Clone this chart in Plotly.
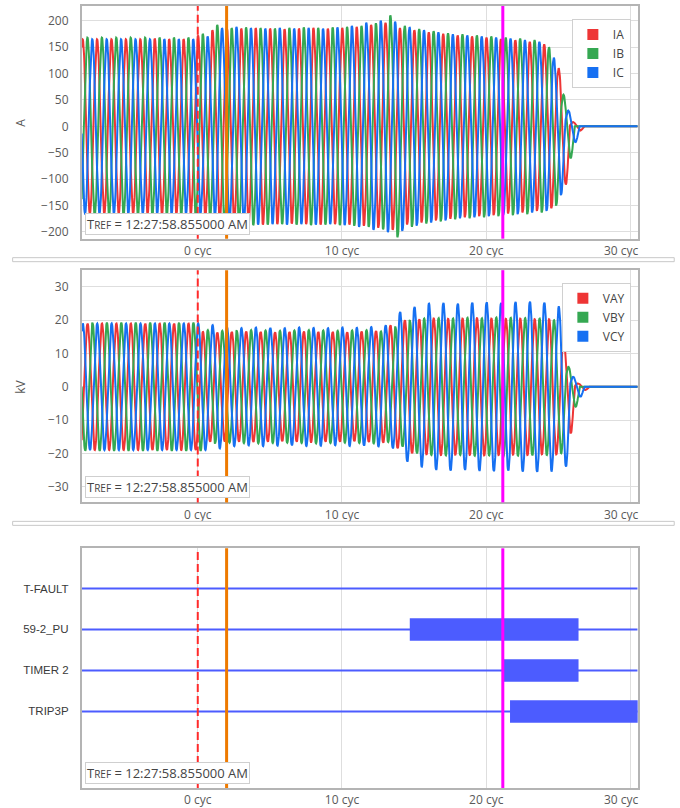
import numpy as np
import plotly.graph_objects as go

# ---------------------------------------------------------------------------
# Event record data
# Peak value of every cycle of each phase, starting at cycle index CYCLE_FIRST.
# ---------------------------------------------------------------------------
CYCLE_FIRST = -9

# Phase currents (A)
IA_PK = [165, 165, 165, 165, 165, 165, 166, 165, 165,
         172, 182, 185, 185, 186, 185, 184, 185, 186, 185,
         186, 188, 192, 196, 186, 182, 178, 175, 172, 170,
         168, 165, 163, 160, 155, 110, 8, 0]
IB_PK = [168, 168, 168, 168, 168, 168, 168, 168, 168,
         175, 192, 186, 187, 186, 185, 186, 187, 186, 187,
         188, 190, 195, 210, 190, 184, 180, 176, 174, 172,
         170, 168, 166, 163, 150, 60, 0, 0]
IC_PK = [165, 165, 165, 165, 165, 165, 165, 165, 165,
         170, 186, 188, 186, 185, 186, 185, 186, 185, 187,
         190, 196, 200, 198, 188, 182, 178, 174, 172, 170,
         168, 166, 163, 160, 130, 30, 0, 0]

# Phase voltages (kV)
VAY_PK = [19.0, 19.0, 19.0, 19.0, 19.0, 19.0, 19.0, 19.0, 19.0, 19.0,
          16.5, 16.3, 16.5, 16.6, 16.5, 16.4, 16.5, 16.6, 16.5,
          16.5, 16.4, 16.6, 16.8, 18.5, 20.0, 20.3, 20.5, 20.4, 20.5,
          20.6, 20.5, 20.4, 20.5, 20.3, 20.3, 14.0, 1.0]
VBY_PK = [19.2, 19.2, 19.2, 19.2, 19.2, 19.2, 19.2, 19.2, 19.2, 19.2,
          17.0, 16.8, 16.9, 17.0, 16.9, 16.8, 16.9, 17.0, 16.9,
          16.8, 16.9, 17.0, 16.6, 18.0, 20.0, 20.5, 20.6, 20.5, 20.7,
          20.6, 20.8, 20.7, 20.6, 20.5, 20.0, 6.0, 0]
VCY_PK = [19.0, 19.0, 19.0, 19.0, 19.0, 19.0, 19.0, 19.0, 19.0, 19.0,
          18.5, 17.8, 17.6, 17.8, 17.7, 17.6, 17.8, 17.7, 17.6,
          17.8, 17.7, 17.9, 18.5, 22.5, 24.0, 25.0, 25.2, 25.0, 25.3,
          25.4, 25.2, 25.5, 25.6, 25.3, 24.0, 3.0, 0]

# Phase offsets in cycles (ABC rotation)
I_PHASE = {"IA": -0.23, "IB": -0.23 + 1 / 3, "IC": -0.23 + 2 / 3}
V_PHASE = {"VAY": -0.89, "VBY": -0.55, "VCY": -0.22}

# Digital elements and their asserted intervals (cycles)
DIG_NAMES = ["T-FAULT", "59-2_PU", "TIMER 2", "TRIP3P"]
DIG_ON = {"T-FAULT": [], "59-2_PU": [(14.7, 26.4)],
          "TIMER 2": [(21.15, 26.4)], "TRIP3P": [(21.65, 31.0)]}

# Cursors (cycles)
TRIGGER_CYC = 0.0
CURSOR_A_CYC = 2.0
CURSOR_B_CYC = 21.15

X_TICKS = [0, 10, 20, 30]
X_TICK_TEXT = ["0 cyc", "10 cyc", "20 cyc", "30 cyc" + "\u00a0" * 6]
I_TICKS = [-200, -150, -100, -50, 0, 50, 100, 150, 200]
V_TICKS = [-30, -20, -10, 0, 10, 20, 30]
TREF_TEXT = "T<span style='font-size:10px'>REF</span> = 12:27:58.855000 AM"

# ---------------------------------------------------------------------------
X_RANGE = [-8.05, 30.5]
SAMPLES_PER_CYCLE = 48
RED, GREEN, BLUE = "#ee3535", "#35a852", "#1670f2"
DIG_BLUE = "#4c5cff"
W, H = 680, 808


def px(x_px):
    """Horizontal pixel position -> paper fraction."""
    return x_px / W


def wave(peaks, phase):
    n = int((X_RANGE[1] - X_RANGE[0]) * SAMPLES_PER_CYCLE) + 1
    t = np.linspace(X_RANGE[0], X_RANGE[1], n)
    u = t - phase
    pk = np.array(list(peaks) + [0.0])
    k = np.clip(np.floor(u).astype(int) - CYCLE_FIRST, 0, len(peaks))
    return t, pk[k] * np.sin(2 * np.pi * u)


def ydom(top_px, bot_px):
    return [1 - bot_px / H, 1 - top_px / H]


fig = go.Figure()

# Current channels
for name, pk, col in [("IA", IA_PK, RED), ("IB", IB_PK, GREEN), ("IC", IC_PK, BLUE)]:
    t, y = wave(pk, I_PHASE[name])
    fig.add_trace(go.Scatter(x=t, y=y, mode="lines", line=dict(color=col, width=2),
                             xaxis="x", yaxis="y", showlegend=False, hoverinfo="skip"))
    fig.add_trace(go.Scatter(x=[None], y=[None], mode="markers", name=name,
                             marker=dict(symbol="square", size=11, color=col),
                             xaxis="x", yaxis="y", legend="legend"))

# Voltage channels
for name, pk, col in [("VAY", VAY_PK, RED), ("VBY", VBY_PK, GREEN), ("VCY", VCY_PK, BLUE)]:
    t, y = wave(pk, V_PHASE[name])
    fig.add_trace(go.Scatter(x=t, y=y, mode="lines", line=dict(color=col, width=2),
                             xaxis="x2", yaxis="y2", showlegend=False, hoverinfo="skip"))
    fig.add_trace(go.Scatter(x=[None], y=[None], mode="markers", name=name,
                             marker=dict(symbol="square", size=11, color=col),
                             xaxis="x2", yaxis="y2", legend="legend2"))

# Digital channels
dig_y = {n: len(DIG_NAMES) - i for i, n in enumerate(DIG_NAMES)}
for n in DIG_NAMES:
    fig.add_trace(go.Scatter(x=X_RANGE, y=[dig_y[n]] * 2, mode="lines",
                             line=dict(color=DIG_BLUE, width=2),
                             xaxis="x3", yaxis="y3", showlegend=False, hoverinfo="skip"))
    for a, b in DIG_ON[n]:
        fig.add_trace(go.Bar(x=[b - a], base=[a], y=[dig_y[n]], orientation="h",
                             width=0.55, marker=dict(color=DIG_BLUE, line=dict(width=0)),
                             xaxis="x3", yaxis="y3", showlegend=False, hoverinfo="skip"))

tick_font = dict(family="Open Sans, sans-serif", size=12, color="#5a5a5a")
frame = dict(showline=True, mirror=True, linecolor="#b4b4b4", linewidth=1.5,
             gridcolor="#dedede", gridwidth=1, zeroline=False, ticks="")
xcommon = dict(frame, range=X_RANGE, domain=[px(84), px(656)], tickvals=X_TICKS,
               ticktext=X_TICK_TEXT, tickfont=tick_font, showgrid=True,
               ticklabeloverflow="allow")

panels = [(6, 239), (270.5, 503), (549, 789)]
legend_style = dict(xanchor="right", yanchor="top", bgcolor="white",
                    bordercolor="#d0d0d0", borderwidth=1, itemwidth=30,
                    font=dict(family="Open Sans, sans-serif", size=12, color="#444"))
fig.update_layout(
    width=W, height=H, margin=dict(l=0, r=0, t=0, b=0), autosize=False,
    paper_bgcolor="white", plot_bgcolor="white", barmode="overlay",
    xaxis=dict(xcommon, anchor="y"),
    xaxis2=dict(xcommon, anchor="y2"),
    xaxis3=dict(xcommon, anchor="y3"),
    yaxis=dict(frame, anchor="x", domain=ydom(*panels[0]), range=[-212.7, 227.8],
               tickvals=I_TICKS, tickfont=tick_font, ticklabelstandoff=9),
    yaxis2=dict(frame, anchor="x2", domain=ydom(*panels[1]), range=[-34.7, 35.0],
                tickvals=V_TICKS, tickfont=tick_font, ticklabelstandoff=9),
    yaxis3=dict(frame, anchor="x3", domain=ydom(*panels[2]), range=[-0.87, 4.98],
                tickvals=[dig_y[n] for n in DIG_NAMES], ticktext=DIG_NAMES,
                showgrid=False, ticklabelstandoff=9,
                tickfont=dict(family="Liberation Sans, Arial, sans-serif", size=11.5,
                              color="#3a3a3a")),
    legend=dict(legend_style, x=px(649), y=1 - 19 / H),
    legend2=dict(legend_style, x=px(649), y=1 - 283 / H),
)

shapes = []
for ax in ["", "2", "3"]:
    xr, yr = "x" + ax, ("y" + ax) + " domain"
    shapes.append(dict(type="line", xref=xr, yref=yr, x0=TRIGGER_CYC, x1=TRIGGER_CYC,
                       y0=0, y1=1, line=dict(color="#ff2a2a", width=2, dash="8px,4px")))
    shapes.append(dict(type="line", xref=xr, yref=yr, x0=CURSOR_A_CYC, x1=CURSOR_A_CYC,
                       y0=0, y1=1, line=dict(color="#ee7a00", width=3)))
    shapes.append(dict(type="line", xref=xr, yref=yr, x0=CURSOR_B_CYC, x1=CURSOR_B_CYC,
                       y0=0, y1=1, line=dict(color="#ff00ff", width=3)))
# panel separators
for top in (258, 522):
    shapes.append(dict(type="rect", xref="paper", yref="paper", x0=px(13), x1=1.02,
                       y0=1 - (top + 4) / H, y1=1 - top / H,
                       line=dict(color="#c8c8c8", width=1), fillcolor="white"))
fig.update_layout(shapes=shapes)

ann = []
for (top, bot), title in zip(panels, ["A", "kV", None]):
    ann.append(dict(xref="paper", yref="paper", x=px(87), xanchor="left",
                    y=1 - (bot - 4) / H, yanchor="bottom", text=TREF_TEXT, showarrow=False,
                    font=dict(family="Open Sans, sans-serif", size=13, color="#444"),
                    bgcolor="white", bordercolor="#cfcfcf", borderwidth=1, borderpad=1))
    if title:
        ann.append(dict(xref="paper", yref="paper", x=px(21), xanchor="center",
                        y=1 - (top + bot) / 2 / H, yanchor="middle",
                        text=title, textangle=-90, showarrow=False,
                        font=dict(family="Open Sans, sans-serif", size=12, color="#5a5a5a")))
fig.update_layout(annotations=ann)

fig.write_html("out.html")
